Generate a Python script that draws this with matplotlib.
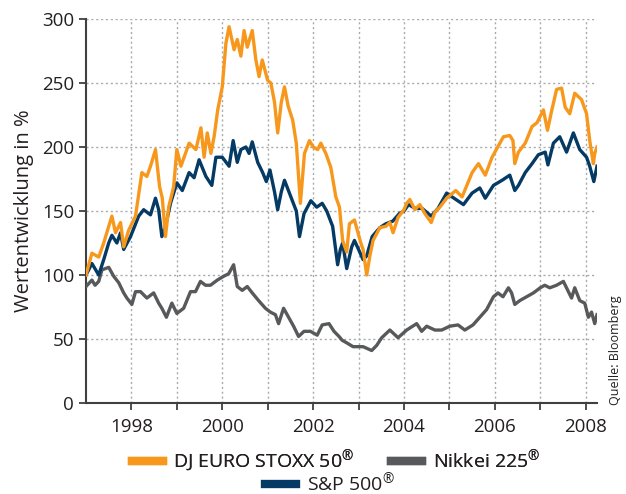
import matplotlib.pyplot as plt
from matplotlib.lines import Line2D

plt.rcParams['font.family'] = ['Open Sans', 'DejaVu Sans']
plt.rcParams['mathtext.fontset'] = 'custom'
plt.rcParams['mathtext.rm'] = 'Open Sans'

# values (year as decimal, index = 100 at start)
stoxx_t = [1997.00, 1997.13, 1997.28, 1997.39, 1997.50, 1997.57, 1997.65, 1997.76, 1997.83, 1997.94,
           1998.09, 1998.23, 1998.34, 1998.42, 1998.53, 1998.62, 1998.68, 1998.75, 1998.82, 1998.93,
           1999.00, 1999.09, 1999.27, 1999.42, 1999.53, 1999.60, 1999.67, 1999.75, 1999.82, 1999.90,
           2000.00, 2000.08, 2000.15, 2000.26, 2000.33, 2000.41, 2000.48, 2000.55, 2000.66, 2000.74,
           2000.81, 2000.88, 2001.00, 2001.07, 2001.15, 2001.22, 2001.30, 2001.37, 2001.45, 2001.55,
           2001.63, 2001.72, 2001.81, 2001.92, 2002.00, 2002.10, 2002.17, 2002.28, 2002.39, 2002.50,
           2002.58, 2002.65, 2002.74, 2002.80, 2002.91, 2003.05, 2003.10, 2003.18, 2003.25, 2003.32,
           2003.47, 2003.60, 2003.69, 2003.76, 2003.87, 2004.00, 2004.06, 2004.13, 2004.24, 2004.35,
           2004.46, 2004.60, 2004.68, 2004.79, 2004.94, 2005.14, 2005.28, 2005.50, 2005.64, 2005.79,
           2005.94, 2006.08, 2006.19, 2006.33, 2006.40, 2006.44, 2006.52, 2006.67, 2006.82, 2006.93,
           2007.07, 2007.16, 2007.25, 2007.36, 2007.47, 2007.55, 2007.65, 2007.76, 2007.91, 2008.02,
           2008.09, 2008.17, 2008.20, 2008.25]
stoxx = [100, 117, 114, 125, 138, 146, 133, 141, 122, 135,
         146, 180, 177, 185, 198, 169, 160, 130, 153, 169,
         198, 185, 203, 198, 215, 192, 211, 195, 208, 229,
         247, 281, 294, 276, 284, 271, 291, 278, 291, 268,
         255, 268, 252, 250, 235, 211, 235, 247, 232, 221,
         203, 156, 195, 205, 200, 198, 203, 195, 184, 161,
         153, 127, 118, 140, 143, 125, 120, 100, 115, 127,
         137, 138, 141, 133, 145, 151, 156, 159, 151, 155,
         148, 141, 149, 153, 160, 166, 161, 180, 187, 178,
         192, 201, 208, 209, 205, 187, 196, 203, 216, 219,
         229, 213, 228, 245, 246, 231, 226, 242, 237, 226,
         205, 187, 195, 200]

sp_t = [1997.00, 1997.13, 1997.28, 1997.39, 1997.50, 1997.57, 1997.68, 1997.76, 1997.83, 1997.98,
        1998.16, 1998.27, 1998.42, 1998.53, 1998.60, 1998.67, 1998.75, 1998.86, 1999.00, 1999.12,
        1999.27, 1999.38, 1999.49, 1999.64, 1999.77, 1999.86, 2000.00, 2000.15, 2000.24, 2000.33,
        2000.41, 2000.52, 2000.59, 2000.66, 2000.78, 2000.89, 2000.97, 2001.05, 2001.15, 2001.22,
        2001.30, 2001.37, 2001.50, 2001.63, 2001.70, 2001.80, 2001.95, 2002.08, 2002.20, 2002.30,
        2002.43, 2002.54, 2002.60, 2002.65, 2002.74, 2002.85, 2002.91, 2003.00, 2003.10, 2003.18,
        2003.30, 2003.47, 2003.60, 2003.75, 2003.90, 2004.00, 2004.10, 2004.25, 2004.40, 2004.60,
        2004.75, 2004.94, 2005.06, 2005.31, 2005.50, 2005.67, 2005.79, 2005.97, 2006.16, 2006.33,
        2006.44, 2006.52, 2006.67, 2006.82, 2006.96, 2007.11, 2007.17, 2007.29, 2007.43, 2007.58,
        2007.73, 2007.87, 2008.02, 2008.09, 2008.18, 2008.25]
sp = [100, 109, 100, 112, 125, 131, 125, 133, 120, 130,
      146, 151, 147, 160, 151, 130, 138, 156, 172, 166,
      180, 176, 190, 177, 170, 192, 192, 185, 205, 188,
      198, 200, 195, 204, 188, 180, 173, 182, 165, 151,
      165, 174, 162, 150, 130, 148, 158, 153, 156, 150,
      138, 108, 120, 125, 105, 122, 127, 120, 112, 115,
      130, 137, 140, 142, 148, 150, 155, 152, 152, 146,
      152, 164, 161, 155, 164, 168, 160, 170, 174, 178,
      166, 170, 180, 187, 194, 196, 186, 203, 208, 196,
      211, 198, 192, 185, 173, 185]

nikkei_t = [1997.00, 1997.13, 1997.20, 1997.28, 1997.35, 1997.50, 1997.61, 1997.72, 1997.83, 1997.90,
            1998.01, 1998.09, 1998.20, 1998.34, 1998.49, 1998.60, 1998.67, 1998.77, 1998.89, 1999.00,
            1999.15, 1999.30, 1999.41, 1999.52, 1999.63, 1999.74, 1999.89, 2000.03, 2000.14, 2000.25,
            2000.33, 2000.44, 2000.55, 2000.66, 2000.80, 2000.95, 2001.06, 2001.17, 2001.24, 2001.35,
            2001.46, 2001.57, 2001.68, 2001.80, 2001.94, 2002.09, 2002.20, 2002.35, 2002.46, 2002.57,
            2002.64, 2002.74, 2002.88, 2003.10, 2003.29, 2003.40, 2003.51, 2003.69, 2003.87, 2004.06,
            2004.28, 2004.39, 2004.50, 2004.68, 2004.83, 2005.01, 2005.19, 2005.34, 2005.52, 2005.67,
            2005.82, 2005.97, 2006.07, 2006.18, 2006.30, 2006.37, 2006.44, 2006.55, 2006.70, 2006.85,
            2007.00, 2007.10, 2007.21, 2007.36, 2007.51, 2007.62, 2007.69, 2007.76, 2007.87, 2007.98,
            2008.06, 2008.13, 2008.20, 2008.25]
nikkei = [91, 96, 92, 95, 104, 106, 99, 94, 86, 82,
          77, 87, 87, 82, 86, 78, 74, 67, 78, 70,
          74, 87, 87, 95, 92, 92, 96, 99, 101, 108,
          91, 88, 91, 86, 80, 74, 71, 69, 62, 74,
          67, 60, 52, 56, 56, 53, 61, 62, 56, 52,
          49, 47, 44, 44, 41, 45, 51, 57, 51, 57,
          62, 56, 60, 57, 57, 60, 61, 57, 61, 67,
          73, 83, 86, 83, 90, 86, 77, 80, 83, 86,
          90, 92, 90, 92, 95, 87, 82, 90, 80, 78,
          67, 71, 62, 69]

c_stoxx = '#f7981d'
c_sp = '#043a63'
c_nikkei = '#58595b'
txt = '#231f20'

fig = plt.figure(figsize=(6.26, 4.94), dpi=100)
ax = fig.add_axes([86 / 626, 1 - 403 / 494, 511 / 626, 384 / 494])

ax.plot(nikkei_t, nikkei, color=c_nikkei, lw=2.4, zorder=3)
ax.plot(sp_t, sp, color=c_sp, lw=2.4, zorder=4)
ax.plot(stoxx_t, stoxx, color=c_stoxx, lw=2.4, zorder=5)

ax.set_xlim(1997.0, 2008.25)
ax.set_ylim(0, 300)
ax.set_yticks([0, 50, 100, 150, 200, 250, 300])
years = list(range(1998, 2009))
ax.set_xticks(years)
ax.set_xticklabels([str(y) if y % 2 == 0 else '' for y in years])
ax.grid(True, color='#a7a9ac', ls=(0, (1.5, 2)), lw=1)
ax.set_axisbelow(True)

for s in ['top', 'right']:
    ax.spines[s].set_visible(False)
for s in ['left', 'bottom']:
    ax.spines[s].set_color('#404041')
    ax.spines[s].set_linewidth(1.5)
ax.tick_params(colors='#404041', labelcolor=txt, labelsize=13.5, width=1.3, length=5)
ax.tick_params(axis='x', pad=6)

ax.set_ylabel('Wertentwicklung in %', fontsize=14.5, color=txt, labelpad=6)

fig.text(615 / 626, 1 - 350 / 494, 'Quelle: Bloomberg', rotation=90, fontsize=9,
         color=txt, ha='center', va='center')

reg = '$^{®}$'
h1 = [Line2D([], [], color=c_stoxx, lw=6), Line2D([], [], color=c_nikkei, lw=6)]
leg1 = fig.legend(h1, ['DJ EURO STOXX 50' + reg, 'Nikkei 225' + reg], ncol=2, frameon=False,
                  loc='center', bbox_to_anchor=(336 / 626, 1 - 461 / 494), fontsize=14,
                  handlelength=1.6, handletextpad=0.55, columnspacing=1.9,
                  labelcolor=txt)
fig.add_artist(leg1)
fig.legend([Line2D([], [], color=c_sp, lw=6)], ['S&P 500' + reg], frameon=False,
           loc='center', bbox_to_anchor=(330 / 626, 1 - 483 / 494), fontsize=14,
           handlelength=1.6, handletextpad=0.55, labelcolor=txt)

fig.savefig('out.png', dpi=100)
